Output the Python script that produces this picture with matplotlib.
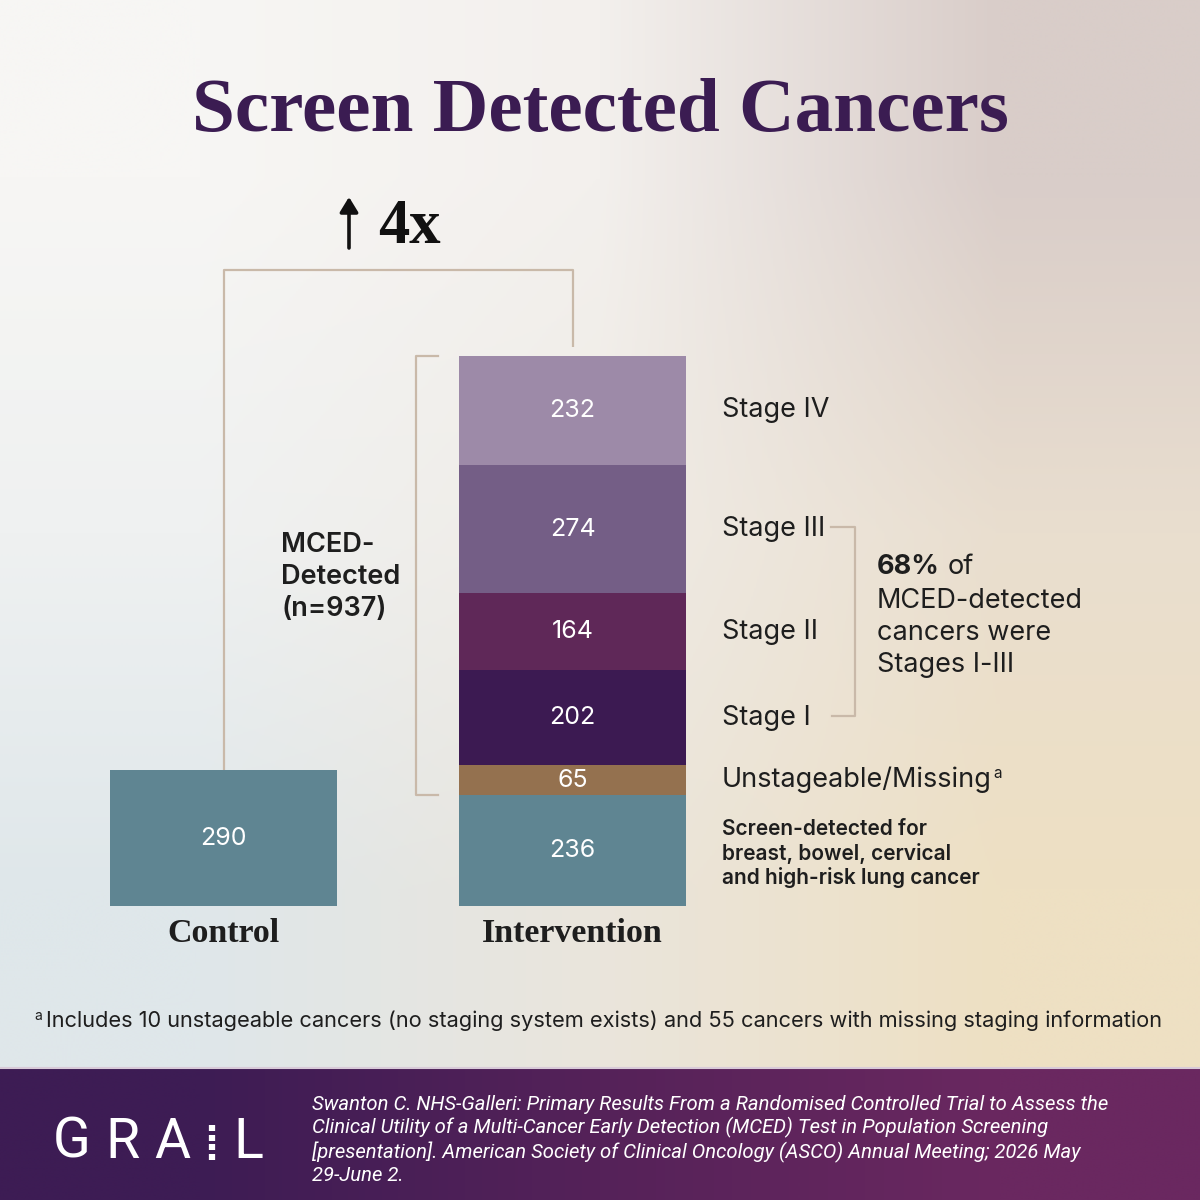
import numpy as np
import matplotlib
matplotlib.use("Agg")
import matplotlib.pyplot as plt
from matplotlib.colors import to_rgb

# ---------------- data ----------------
groups = ["Control", "Intervention"]
control_value = 290
segment_names = ["Screen-detected", "Unstageable/Missing", "Stage I", "Stage II", "Stage III", "Stage IV"]
segment_values = [236, 65, 202, 164, 274, 232]
segment_colors = ["#5f8592", "#94714f", "#3c1a52", "#5f2858", "#745e86", "#9d8aa8"]
control_color = "#5f8592"
segment_labels = ["Screen-detected for\nbreast, bowel, cervical\nand high-risk lung cancer",
                  "Unstageable/Missing", "Stage I", "Stage II", "Stage III", "Stage IV"]
mced_total = 937
pct_stage_1_3 = 68
fold_increase = "4x"
title = "Screen Detected Cancers"
footnote = "Includes 10 unstageable cancers (no staging system exists) and 55 cancers with missing staging information"
citation = ("Swanton C. NHS-Galleri: Primary Results From a Randomised Controlled Trial to Assess the\n"
            "Clinical Utility of a Multi-Cancer Early Detection (MCED) Test in Population Screening\n"
            "[presentation]. American Society of Clinical Oncology (ASCO) Annual Meeting; 2026 May\n"
            "29-June 2.")

SANS = ["Inter", "DejaVu Sans"]
SERIF = ["Liberation Serif", "DejaVu Serif"]
TAN = "#c9b9a9"
DARK = "#1e1e1e"
PURPLE = "#3b1c52"

W = H = 1200
fig = plt.figure(figsize=(12, 12), dpi=100)

# ---------------- background ----------------
bg = fig.add_axes([0, 0, 1, 1], zorder=0)
bg.set_xlim(0, W); bg.set_ylim(H, 0); bg.axis("off")
grid = np.array([
    [(247, 246, 244), (243, 240, 237), (217, 205, 201)],
    [(239, 241, 241), (240, 236, 230), (233, 222, 207)],
    [(223, 231, 234), (234, 229, 220), (238, 224, 195)],
]) / 255.0
bg.imshow(grid, extent=(0, W, 1068, 0), interpolation="bilinear", aspect="auto")
foot = np.array([[to_rgb("#3d1c54"), to_rgb("#552259"), to_rgb("#6a2860")]])
bg.imshow(foot, extent=(0, W, H, 1068), interpolation="bilinear", aspect="auto")
bg.plot([0, W], [1068, 1068], color="#d8cad8", lw=1.5)
bg.set_xlim(0, W); bg.set_ylim(H, 0)

# ---------------- bars ----------------
bar_top_px, bar_bot_px = 356, 906
ax = fig.add_axes([0, (H - bar_bot_px) / H, 1, (bar_bot_px - bar_top_px) / H], zorder=1)
ax.patch.set_alpha(0)
ax.axis("off")
x = np.arange(len(groups))
spacing_px = 349.0
ax.set_xlim(-223.5 / spacing_px, (W - 223.5) / spacing_px)
ax.set_ylim(0, sum(segment_values))
bw = 227 / spacing_px

ax.bar(x[0], control_value, width=bw, color=control_color)
ax.text(x[0], control_value / 2, str(control_value), ha="center", va="center",
        color="white", fontsize=18, family=SANS)
bottom = 0
centers = []
for v, c in zip(segment_values, segment_colors):
    ax.bar(x[1], v, bottom=bottom, width=bw, color=c)
    ax.text(x[1], bottom + v / 2, str(v), ha="center", va="center",
            color="white", fontsize=18, family=SANS)
    centers.append(bottom + v / 2)
    bottom += v

# overlay in pixel coords
ov = fig.add_axes([0, 0, 1, 1], zorder=2)
ov.patch.set_alpha(0)
ov.set_xlim(0, W); ov.set_ylim(H, 0); ov.axis("off")

def to_px(xd, yd):
    disp = ax.transData.transform((xd, yd))
    return ov.transData.inverted().transform(disp)

# group labels
for xi, g in zip(x, groups):
    px, _ = to_px(xi, 0)
    ov.text(px, 933, g, ha="center", va="center", fontsize=24.5, fontweight="bold",
            family=SERIF, color=DARK)

# title
ov.text(600, 112, title, ha="center", va="center", fontsize=55.5, fontweight="bold",
        family=SERIF, color=PURPLE)

# connector bracket
cx, cy = to_px(x[0], control_value)
ix, iy = to_px(x[1], sum(segment_values))
ov.plot([cx, cx, ix, ix], [cy, 270, 270, iy - 9], color=TAN, lw=1.6, solid_capstyle="butt")

# arrow + 4x
ov.annotate("", xy=(349, 197), xytext=(349, 248),
            arrowprops=dict(arrowstyle="-|>,head_length=0.9,head_width=0.55",
                            lw=2.6, color="#111111", shrinkA=0, shrinkB=0))
ov.text(378, 228, fold_increase, ha="left", va="center", fontsize=45, fontweight="bold",
        family=SERIF, color="#111111")

# MCED bracket
_, ytop = to_px(x[1], sum(segment_values))
_, ybot = to_px(x[1], segment_values[0])
ov.plot([438, 416, 416, 438], [ytop, ytop, ybot, ybot], color=TAN, lw=1.6)
ov.text(281, 577, f"MCED-\nDetected\n(n={mced_total})", ha="left", va="center",
        fontsize=19.5, fontweight="semibold", family=SANS, color=DARK, linespacing=1.32)

# segment labels
for i, (lab, cy_) in enumerate(zip(segment_labels, centers)):
    _, py = to_px(x[1], cy_)
    if i == 0:
        ov.text(722, py + 3, lab, ha="left", va="center", fontsize=15, fontweight="semibold",
                family=SANS, color=DARK, linespacing=1.22)
    else:
        t = ov.text(722, py, lab, ha="left", va="center", fontsize=19.5,
                    family=SANS, color=DARK)
        if lab.startswith("Unstageable"):
            fig.canvas.draw()
            bb = t.get_window_extent()
            xe, _ = ov.transData.inverted().transform((bb.x1, bb.y1))
            ov.text(xe + 1, py - 7, "a", ha="left", va="center", fontsize=11,
                    family=SANS, color=DARK)

# stage bracket
_, y3 = to_px(x[1], centers[4])
_, y1 = to_px(x[1], centers[2])
ov.plot([831, 855, 855, 832], [y3 - 2, y3 - 2, y1 - 2, y1 - 2], color=TAN, lw=1.6)
t68 = ov.text(877, 567, f"{pct_stage_1_3}%", ha="left", va="center", fontsize=19.5,
              fontweight="bold", family=SANS, color=DARK)
fig.canvas.draw()
bb = t68.get_window_extent()
xe, _ = ov.transData.inverted().transform((bb.x1, bb.y1))
ov.text(xe + 8, 567, "of", ha="left", va="center", fontsize=19.5, family=SANS, color=DARK)
ov.text(877, 633, "MCED-detected\ncancers were\nStages I-III", ha="left", va="center",
        fontsize=19.5, family=SANS, color=DARK, linespacing=1.32)

# footnote
ov.text(34, 1016, "a", ha="left", va="center", fontsize=10, family=SANS, color=DARK)
ov.text(46, 1021, footnote, ha="left", va="center", fontsize=15.7, family=SANS, color=DARK)

# GRAIL logo
for lx, ch in zip([72, 122, 172, 248], "GRAL"):
    ov.text(lx, 1142, ch, ha="center", va="center", fontsize=40, fontweight="normal",
            family=["Roboto", "DejaVu Sans"], color="white")
for k in range(4):
    y0 = 1125 + k * 9.5
    ov.plot([212, 212], [y0, y0 + 6], color="white", lw=4.5, solid_capstyle="butt")

# citation
ov.text(312, 1140, citation, ha="left", va="center", fontsize=14.6, style="italic",
        family=["Roboto", "DejaVu Sans"], color="white", linespacing=1.2)

fig.savefig("out.png", dpi=100)
